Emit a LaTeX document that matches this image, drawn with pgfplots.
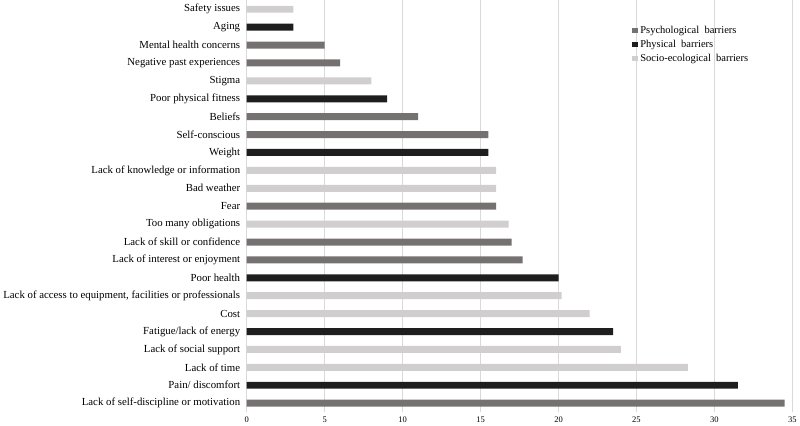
\documentclass[border=0pt]{standalone}
\usepackage{fontspec}
\setmainfont{Liberation Serif}
\usepackage{pgfplots}
\pgfplotsset{compat=1.18}

\definecolor{psych}{HTML}{767171}
\definecolor{phys}{HTML}{1E1E1E}
\definecolor{socio}{HTML}{D0CECE}
\definecolor{gridc}{HTML}{D9D9D9}

\begin{document}
\begin{tikzpicture}
\begin{axis}[
    scale only axis,
    width=546pt, height=412pt,
    xbar, bar width=7pt, bar shift=0pt,
    xmin=0, xmax=35,
    ymin=-0.5, ymax=22.5,
    xtick={0,5,...,35},
    ytick={0,...,22},
    yticklabels={
        Lack of self-discipline or motivation,
        Pain/ discomfort,
        Lack of time,
        Lack of social support,
        Fatigue/lack of energy,
        Cost,
        {Lack of access to equipment, facilities or professionals},
        Poor health,
        Lack of interest or enjoyment,
        Lack of skill or confidence,
        Too many obligations,
        Fear,
        Bad weather,
        Lack of knowledge or information,
        Weight,
        Self-conscious,
        Beliefs,
        Poor physical fitness,
        Stigma,
        Negative past experiences,
        Mental health concerns,
        Aging,
        Safety issues},
    major tick length=0pt,
    axis lines*=left,
    x axis line style={draw=none},
    y axis line style={draw=gridc},
    xmajorgrids=true,
    grid style={gridc, line width=0.6pt},
    /pgf/number format/assume math mode=true,
    xticklabel style={font=\fontsize{8.5}{10}\selectfont, yshift=-1pt},
    yticklabel style={font=\fontsize{10.8}{12}\selectfont, xshift=-3pt},
    legend style={draw=none, fill=none, at={(0.70,0.948)}, anchor=north west,
        font=\fontsize{10.5}{12}\selectfont, row sep=1.5pt,
        /tikz/every even column/.append style={column sep=3pt}},
    legend cell align=left,
    legend image code/.code={\fill[#1] (0pt,-2.5pt) rectangle (6.5pt,2.5pt);},
]
\addplot[draw=none, fill=psych] coordinates {
    (34.5,0) (17.7,8) (17.0,9) (16.0,11) (15.5,15) (11.0,16) (6.0,19) (5.0,20)
};
\addplot[draw=none, fill=phys] coordinates {
    (31.5,1) (23.5,4) (20.0,7) (15.5,14) (9.0,17) (3.0,21)
};
\addplot[draw=none, fill=socio] coordinates {
    (28.3,2) (24.0,3) (22.0,5) (20.2,6) (16.8,10) (16.0,12) (16.0,13) (8.0,18) (3.0,22)
};
\legend{Psychological\ \ barriers, Physical\ \ barriers, Socio-ecological\ \ barriers}
\end{axis}
\end{tikzpicture}
\end{document}
